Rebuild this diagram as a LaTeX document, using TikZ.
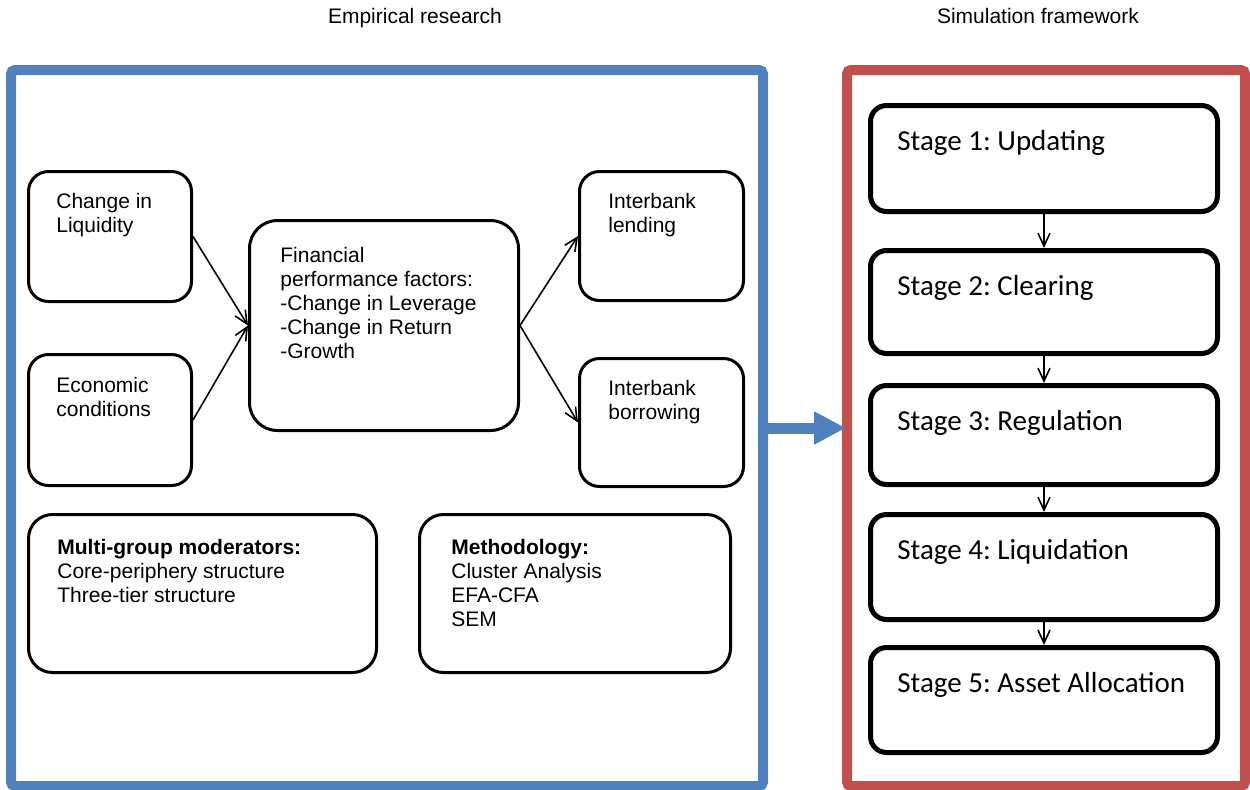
\documentclass[tikz,border=0pt]{standalone}
\usepackage{fontspec}
\setmainfont{Liberation Sans}
\newfontfamily\carlito{Carlito}
\usetikzlibrary{arrows.meta,fit}
\definecolor{oblue}{HTML}{4F81BD}
\definecolor{ored}{HTML}{C0504D}
\begin{document}
\frenchspacing
\begin{tikzpicture}[x=0.5pt,y=-0.5pt,
  box/.style={draw, line width=1.5pt, rounded corners=10pt, inner sep=0pt},
  stagebox/.style={draw, line width=2.5pt, rounded corners=8pt, inner sep=0pt},
  frame/.style={draw, line width=5pt, rounded corners=2pt, inner sep=0pt},
  txt/.style={anchor=north west, inner sep=0pt, align=left, font=\fontsize{10.5}{12}\selectfont},
  ttl/.style={anchor=base, inner sep=0pt, font=\fontsize{10.5}{12}\selectfont},
  stxt/.style={anchor=base west, inner sep=0pt, font=\carlito\fontsize{14.5}{17}\selectfont},
  conn/.style={line width=0.8pt, -{Straight Barb[length=6.5pt,width=6pt]}},
  bigarrow/.style={line width=5.5pt, oblue, shorten >=-2pt, -{Triangle[length=16pt,width=15.5pt]}},
]
\useasboundingbox (0,0) rectangle (1250,789);

% frames
\node[frame, draw=oblue, fit={(11,70)(763,786)}] (emp) {};
\node[frame, draw=ored, fit={(847,70)(1245,786)}] (sim) {};

% titles
\node[ttl] (t1) at (415,23) {Empirical research};
\node[ttl] (t2) at (1038,23) {Simulation framework};

% empirical boxes
\node[box, fit={(28.5,171.5)(191.5,301.5)}] (liq) {};
\node[txt] (liqt) at (56,193) {Change in\\Liquidity};
\node[box, fit={(28.5,354.5)(191.5,485.5)}] (eco) {};
\node[txt] (ecot) at (56,377) {Economic\\conditions};
\node[box, rounded corners=14pt, fit={(249.5,220.5)(518.5,430.5)}] (fin) {};
\node[txt] (fint) at (280,247) {Financial\\performance factors:\\-Change in Leverage\\-Change in Return\\-Growth};
\node[box, fit={(579.5,171.5)(743.5,300.5)}] (lend) {};
\node[txt] (lendt) at (608,193) {Interbank\\lending};
\node[box, fit={(579.5,358.5)(743.5,486.5)}] (borr) {};
\node[txt] (borrt) at (608,380) {Interbank\\borrowing};
\node[box, rounded corners=12pt, fit={(28.5,514.5)(376.5,672.5)}] (multi) {};
\node[txt] (multit) at (57,539) {\textbf{Multi-group moderators:}\\Core-periphery structure\\Three-tier structure};
\node[box, rounded corners=12pt, fit={(419.5,514.5)(730.5,672.5)}] (meth) {};
\node[txt] (metht) at (451,539) {\textbf{Methodology:}\\Cluster Analysis\\EFA-CFA\\SEM};

% stages
\node[stagebox, fit={(870.5,105.5)(1217.5,211.5)}] (s1) {};
\node[stxt] (s1t) at (897,150) {Stage 1: Updating};
\node[stagebox, fit={(870.5,250.5)(1217.5,353.5)}] (s2) {};
\node[stxt] (s2t) at (897,295) {Stage 2: Clearing};
\node[stagebox, fit={(870.5,385.5)(1217.5,484.5)}] (s3) {};
\node[stxt] (s3t) at (897,430) {Stage 3: Regulation};
\node[stagebox, fit={(870.5,514.5)(1217.5,619.5)}] (s4) {};
\node[stxt] (s4t) at (897,559) {Stage 4: Liquidation};
\node[stagebox, fit={(870.5,647.5)(1217.5,752.5)}] (s5) {};
\node[stxt] (s5t) at (897,692) {Stage 5: Asset Allocation};

% connectors
\draw[conn] (liq.east) -- (fin.west);
\draw[conn] (eco.east) -- (fin.west);
\draw[conn] (fin.east) -- (lend.west);
\draw[conn] (fin.east) -- (borr.west);
\draw[conn] (s1.south) -- (s2.north);
\draw[conn] (s2.south) -- (s3.north);
\draw[conn] (s3.south) -- (s4.north);
\draw[conn] (s4.south) -- (s5.north);
\draw[bigarrow] (emp.east) -- (sim.west);
\end{tikzpicture}
\end{document}
